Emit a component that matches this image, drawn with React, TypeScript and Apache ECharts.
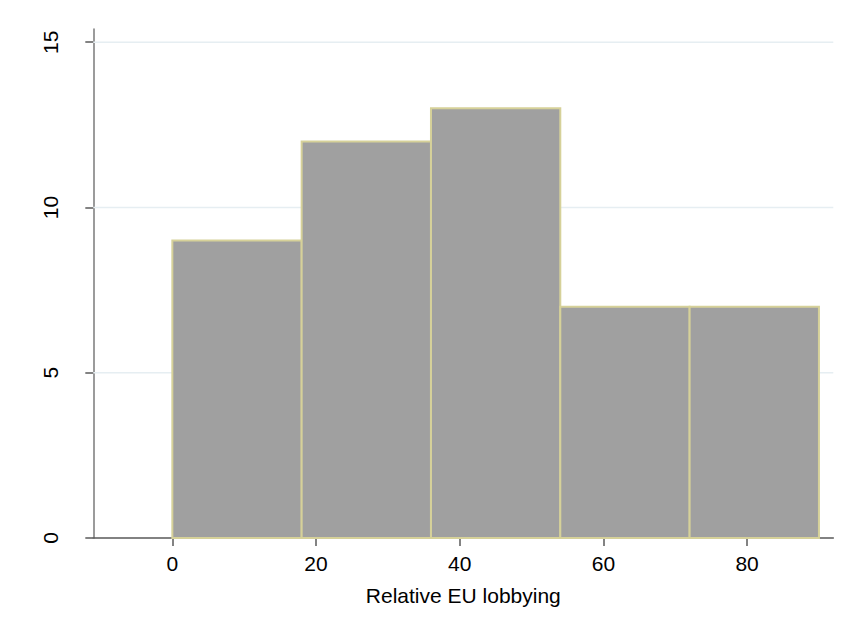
import React, { useEffect, useRef } from "react";
import * as echarts from "echarts";

const binStarts = [0, 18, 36, 54, 72];
const binWidth = 18;
const counts = [9, 12, 13, 7, 7];
const xTicks = [0, 20, 40, 60, 80];
const yTicks = [0, 5, 10, 15];
const gridValues = [5, 10, 15];
const xTitle = "Relative EU lobbying";

export default function App() {
  const ref = useRef<HTMLDivElement>(null);
  useEffect(() => {
    if (!ref.current) return;
    const chart = echarts.init(ref.current, undefined, { renderer: "svg" });
    const font = "'Liberation Sans', Arial, sans-serif";
    chart.setOption({
      animation: false,
      backgroundColor: "#ffffff",
      grid: { left: 93.3, right: 11.7, top: 29, bottom: 81, containLabel: false },
      xAxis: {
        type: "value",
        min: -11,
        max: 92,
        name: xTitle,
        nameLocation: "middle",
        nameGap: 47,
        nameTextStyle: { fontSize: 21, color: "#000", fontFamily: font },
        axisLine: { show: true, onZero: false, lineStyle: { color: "#5a5a5a", width: 1.5 } },
        axisTick: { show: true, length: 8, customValues: xTicks, lineStyle: { color: "#5a5a5a", width: 1.5 } },
        axisLabel: { customValues: xTicks, fontSize: 21, color: "#000", fontFamily: font, margin: 15 },
        splitLine: { show: false },
      },
      yAxis: {
        type: "value",
        min: 0,
        max: 15.4,
        axisLine: { show: true, onZero: false, lineStyle: { color: "#7a7a7a", width: 1.5 } },
        axisTick: { show: true, length: 8, customValues: yTicks, lineStyle: { color: "#5a5a5a", width: 1.5 } },
        axisLabel: { customValues: yTicks, rotate: 90, fontSize: 21, color: "#000", fontFamily: font, margin: 32 },
        splitLine: { show: false },
      },
      series: [
        {
          type: "custom",
          z: 1,
          silent: true,
          data: gridValues.map((v) => [v]),
          renderItem: (params: any, api: any) => {
            const cs = params.coordSys;
            const y = api.coord([0, api.value(0)])[1];
            return {
              type: "line",
              shape: { x1: cs.x, y1: y, x2: cs.x + cs.width, y2: y },
              style: { stroke: "#e6eef2", lineWidth: 1.5 },
            };
          },
        },
        {
          type: "custom",
          z: 2,
          data: binStarts.map((s, i) => [s, s + binWidth, counts[i]]),
          renderItem: (params: any, api: any) => {
            const p0 = api.coord([api.value(0), 0]);
            const p1 = api.coord([api.value(1), api.value(2)]);
            return {
              type: "rect",
              shape: { x: p0[0], y: p1[1], width: p1[0] - p0[0], height: p0[1] - p1[1] },
              style: { fill: "#a0a0a0", stroke: "#d6d199", lineWidth: 2 },
            };
          },
        },
      ],
    });
    return () => chart.dispose();
  }, []);
  return <div ref={ref} style={{ width: 845, height: 619, position: "absolute", left: 0, top: 0 }} />;
}
